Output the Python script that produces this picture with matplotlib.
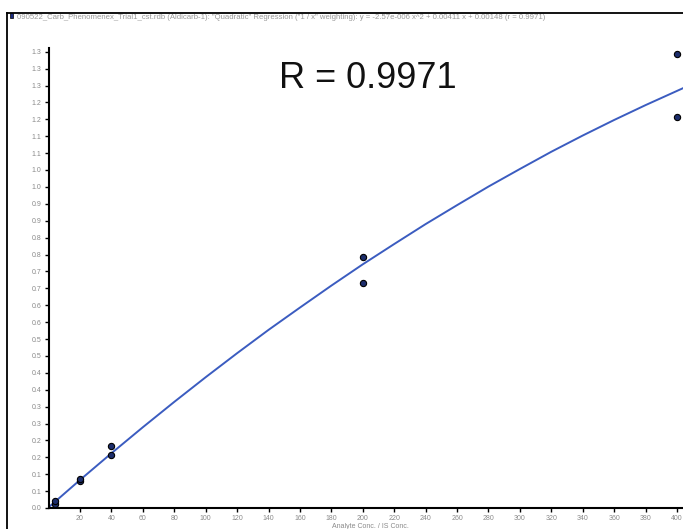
import numpy as np
import matplotlib.pyplot as plt
from matplotlib.patches import Rectangle

# calibration standards (conc ratio, response ratio)
std_x = [4, 4, 20, 20, 40, 40, 200, 200, 400, 400]
std_y = [0.012, 0.021, 0.081, 0.085, 0.156, 0.183, 0.665, 0.743, 1.158, 1.342]

# fitted regression curve
fit_x = [0, 20, 40, 60, 80, 100, 120, 140, 160, 180, 200, 220,
         240, 260, 280, 300, 320, 340, 360, 380, 400, 410]
fit_y = [0.002, 0.083, 0.162, 0.239, 0.314, 0.387, 0.458, 0.527, 0.593, 0.658, 0.721, 0.781,
         0.840, 0.896, 0.951, 1.003, 1.054, 1.102, 1.148, 1.192, 1.234, 1.255]

x_ticks = list(range(20, 401, 20))
y_ticks = [i * 0.05 for i in range(28)]
y_labels = ['0.0', '0.1', '0.1', '0.2', '0.2', '0.3', '0.3', '0.4', '0.4', '0.5',
            '0.5', '0.6', '0.6', '0.7', '0.7', '0.8', '0.8', '0.9', '0.9', '1.0',
            '1.0', '1.1', '1.1', '1.2', '1.2', '1.3', '1.3', '1.3']

title_text = ('090522_Carb_Phenomenex_Trial1_cst.rdb (Aldicarb-1): "Quadratic" Regression '
              '("1 / x" weighting): y = -2.57e-006 x^2 + 0.00411 x + 0.00148 (r = 0.9971)')

plt.rcParams['font.family'] = ['Liberation Sans', 'DejaVu Sans']

W, H = 683, 529
fig = plt.figure(figsize=(W / 100, H / 100), dpi=100)

# axes placed in pixel terms (right part runs off the picture like the screenshot)
x0, x400, y0pix = 48.6, 677.0, 508.0
px_per_x = (x400 - x0) / 400
px_per_y = 338.0
xmax, ymax = 410, 1.36
left = x0 / W
width = xmax * px_per_x / W
bottom = (H - y0pix) / H
height = ymax * px_per_y / H
ax = fig.add_axes([left, bottom, width, height])

ax.plot(fit_x, fit_y, color='#3b5cc0', lw=1.4, zorder=2)
ax.plot(std_x, std_y, 'o', ms=4.5, color='#1c2d6b', mec='black', mew=0.8, zorder=3)

ax.set_xlim(0, xmax)
ax.set_ylim(0, ymax)
ax.set_xticks(x_ticks)
ax.set_xticklabels([str(v) for v in x_ticks])
ax.set_yticks(y_ticks)
ax.set_yticklabels(y_labels)
ax.tick_params(direction='out', length=3, width=1, colors='black',
               labelcolor='#8a8a8a', labelsize=5, pad=2)
for s in ['top', 'right']:
    ax.spines[s].set_visible(False)
for s in ['left', 'bottom']:
    ax.spines[s].set_linewidth(1.5)
ax.set_xlabel('Analyte Conc. / IS Conc.', fontsize=5, color='#8a8a8a', labelpad=1)

ax.text(368 / W, 1 - 78 / H, 'R = 0.9971', transform=fig.transFigure, fontsize=26,
        color='#111111', ha='center', va='center')

# window frame and header
fig.add_artist(plt.Line2D([7 / W, 7 / W], [0, 1 - 13 / H], transform=fig.transFigure,
                          color='black', lw=1.3))
fig.add_artist(plt.Line2D([7 / W, 1], [1 - 13 / H, 1 - 13 / H], transform=fig.transFigure,
                          color='black', lw=1.3))
fig.add_artist(Rectangle((10 / W, 1 - 18 / H), 3 / W, 5 / H, transform=fig.transFigure,
                         facecolor='#1a2a80', edgecolor='black', lw=0.5))
fig.text(17 / W, 1 - 17.5 / H, title_text, fontsize=5.6, color='#999999',
         ha='left', va='center')

fig.savefig('out.png', dpi=100)
